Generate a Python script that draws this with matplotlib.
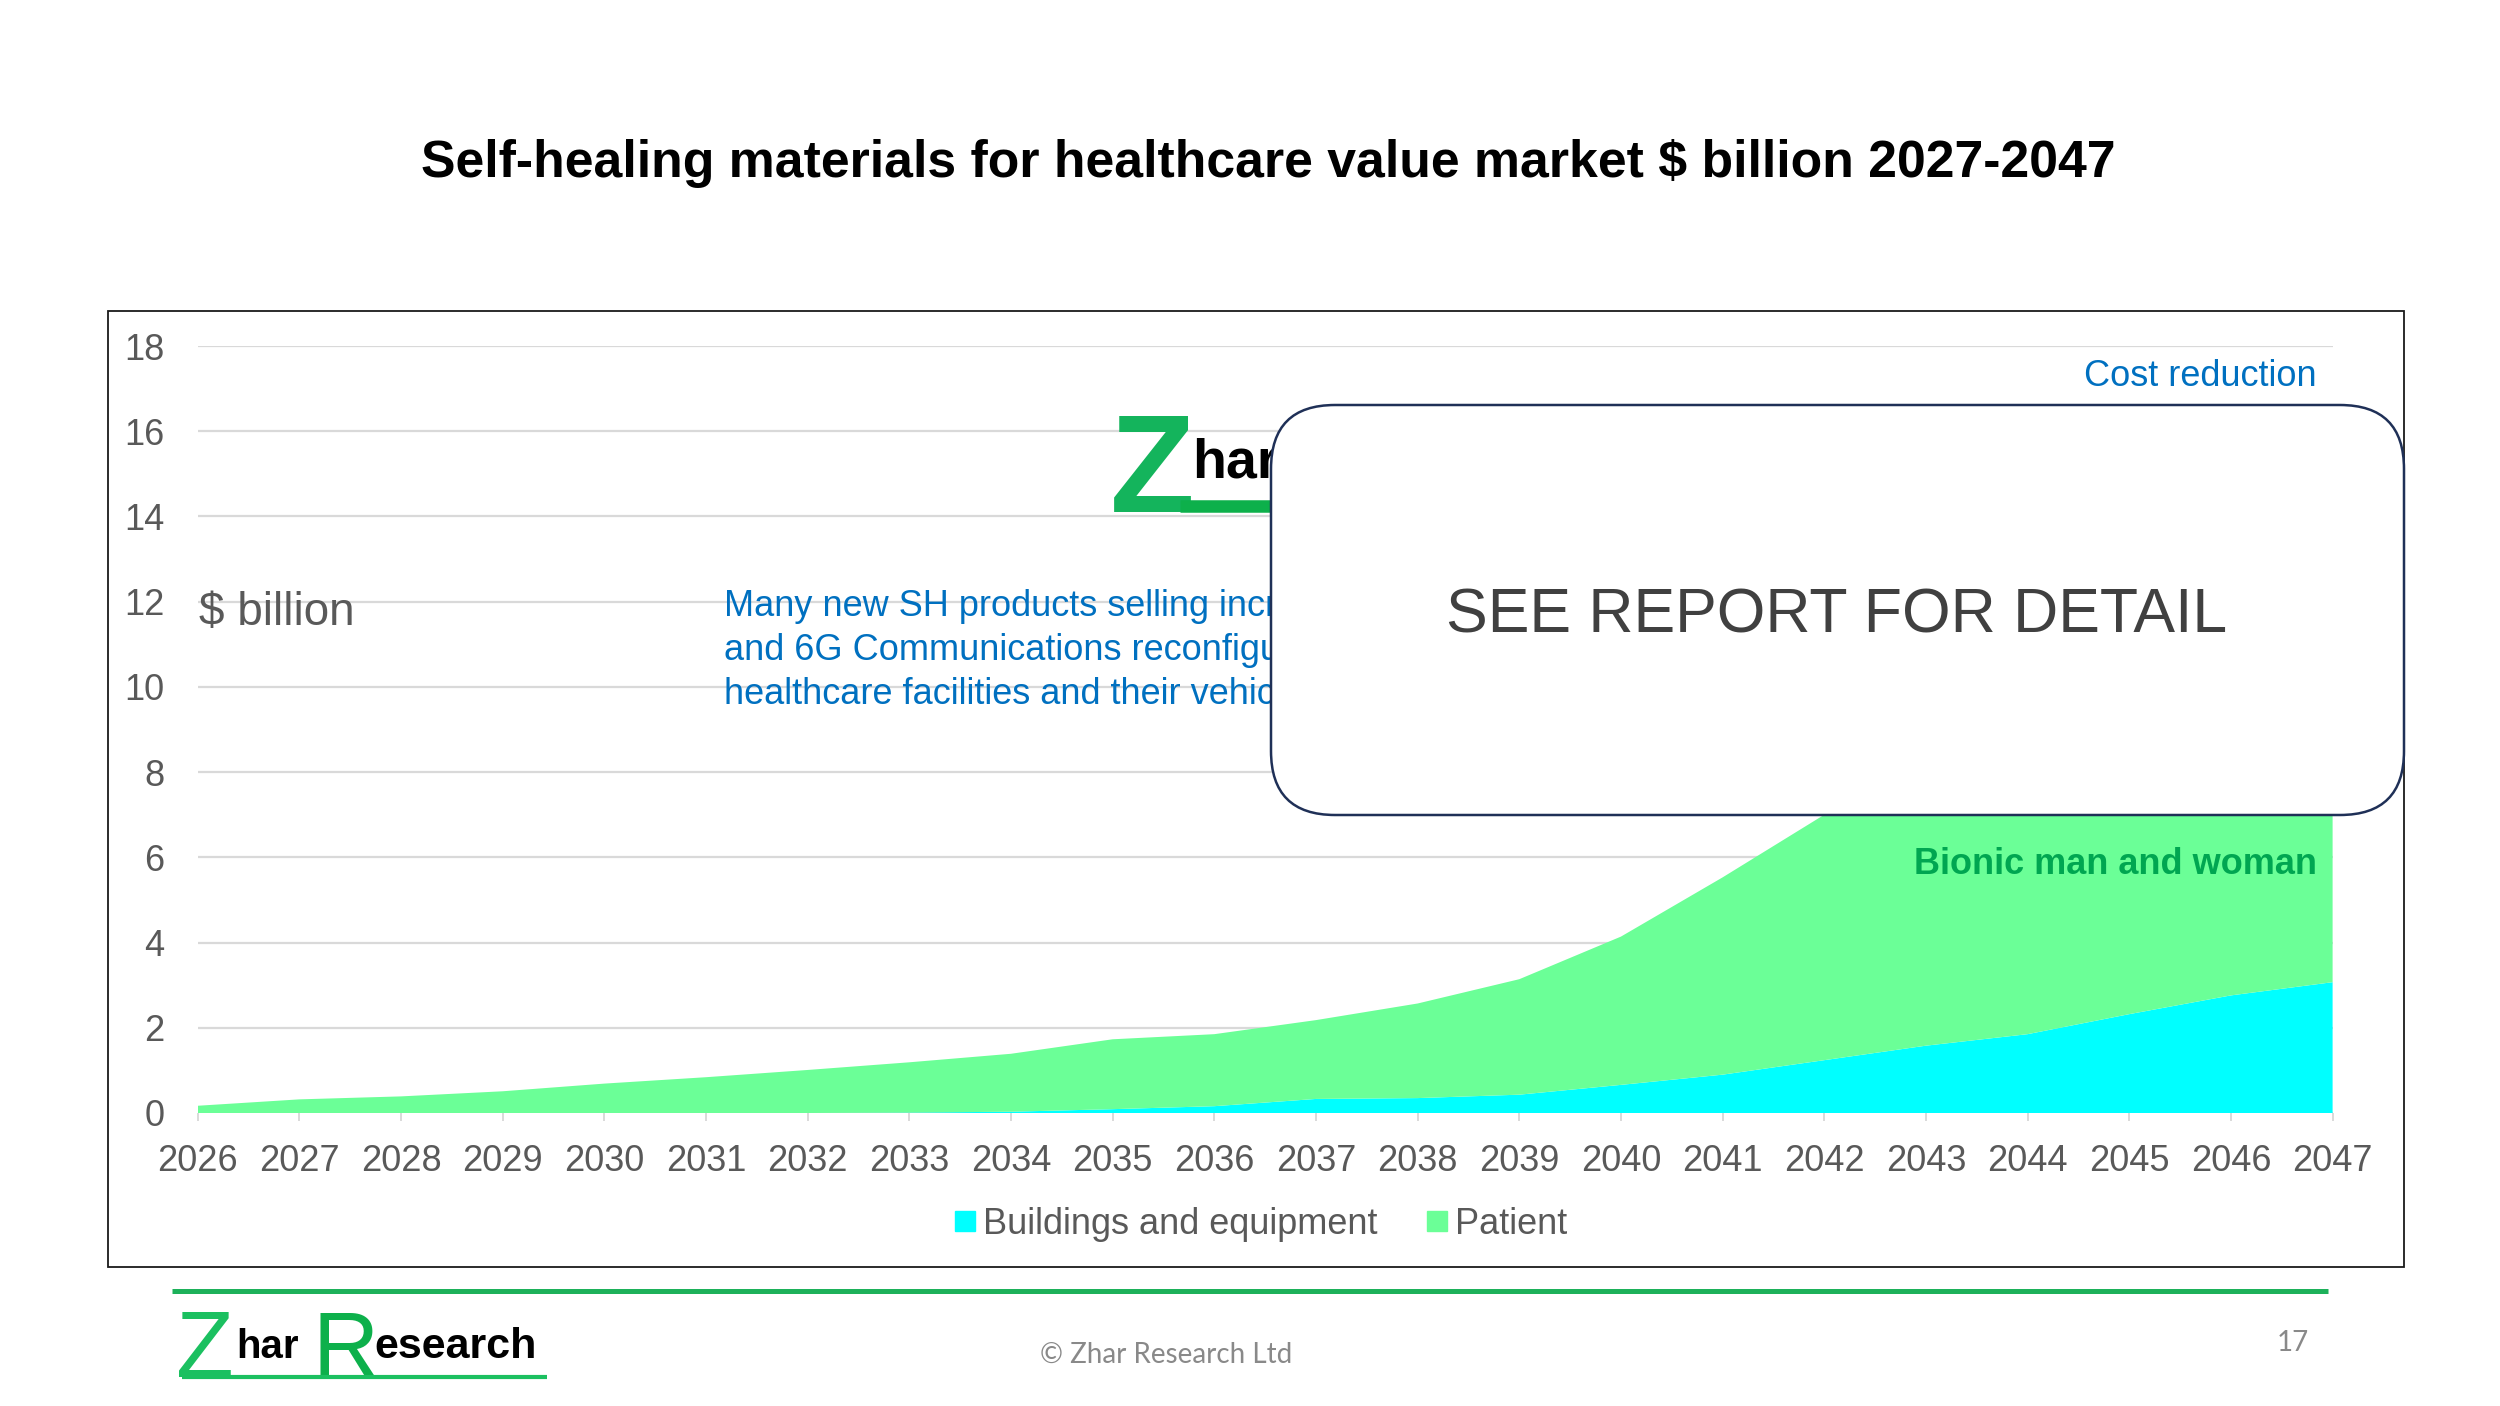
import matplotlib
matplotlib.use("Agg")
import matplotlib.pyplot as plt
from matplotlib.patches import FancyBboxPatch, Rectangle
from matplotlib.lines import Line2D
import numpy as np

plt.rcParams['font.family'] = ['Liberation Sans', 'DejaVu Sans']

# ---------------- data ----------------
years = list(range(2026, 2048))
buildings = [0.0, 0.0, 0.0, 0.0, 0.0, 0.0, 0.0, 0.01, 0.03, 0.09, 0.16, 0.33,
             0.35, 0.43, 0.66, 0.90, 1.24, 1.58, 1.85, 2.32, 2.76, 3.07]
patient = [0.17, 0.32, 0.39, 0.51, 0.69, 0.84, 1.01, 1.18, 1.36, 1.64, 1.69, 1.85,
           2.22, 2.71, 3.48, 4.63, 5.76, 6.82, 7.95, 8.88, 9.84, 10.93]
series_names = ["Buildings and equipment", "Patient"]
series_colors = ["#00FFFF", "#6BFF97"]
yticks = list(range(0, 19, 2))

title = "Self-healing materials for healthcare value market $ billion 2027-2047"
blue_lines = ["Many new SH products selling increasingly",
              "and 6G Communications reconfigurable",
              "healthcare facilities and their vehicles"]

W, H = 2500, 1406
fig = plt.figure(figsize=(W / 100, H / 100), dpi=100)
fig.patch.set_facecolor("white")

# ---------------- chart axes ----------------
x0, x1 = 197.7, 2332.6
y0, y1 = 1113.0, 346.0
ax = fig.add_axes([x0 / W, (H - y0) / H, (x1 - x0) / W, (y0 - y1) / H])
ax.stackplot(years, buildings, patient, colors=series_colors, zorder=2, linewidth=0)
ax.set_xlim(2026, 2047)
ax.set_ylim(0, 18)
ax.set_xticks(years)
ax.set_xticklabels([str(y) for y in years])
ax.set_yticks(yticks)
ax.set_yticklabels([str(v) for v in yticks])
ax.yaxis.grid(True, color="#d9d9d9", lw=1.6, zorder=0)
ax.set_axisbelow(True)
for s in ax.spines.values():
    s.set_visible(False)
ax.tick_params(axis="x", length=6, width=1.4, color="#d9d9d9", labelsize=26,
               labelcolor="#595959", pad=16)
ax.tick_params(axis="y", length=0, labelsize=26, labelcolor="#595959", pad=24)

handles = [Line2D([], [], marker="s", linestyle="none", markersize=14,
                  markerfacecolor=c, markeredgecolor=c) for c in series_colors]
leg = fig.legend(handles, series_names, loc="center", ncol=2, frameon=False,
                 bbox_to_anchor=(1262 / W, 1 - 1224 / H), fontsize=26,
                 handlelength=0.5, handletextpad=0.25, columnspacing=1.4,
                 labelcolor="#595959")

# ---------------- overlay (pixel coords) ----------------
ov = fig.add_axes([0, 0, 1, 1], zorder=5)
ov.set_xlim(0, W)
ov.set_ylim(H, 0)
ov.axis("off")
ov.patch.set_visible(False)

ov.text(1268, 163, title, ha="center", va="center", fontsize=37.3,
        fontweight="bold", color="black")

ov.add_patch(Rectangle((108, 311), 2296, 956, fill=False, ec="#1a1a1a", lw=1.3, zorder=1))

# middle watermark logo (partly hidden by box)
ov.text(1110, 512, "Z", ha="left", va="baseline", fontsize=100, fontweight="bold",
        color="#14B45C", zorder=3)
ov.text(1192, 477, "har", ha="left", va="baseline", fontsize=40, fontweight="bold",
        color="black", zorder=3)
ov.plot([1180, 1300], [506, 506], color="#0DB04B", lw=9, solid_capstyle="butt", zorder=3)

# annotations
ov.text(199, 613, "$ billion", ha="left", va="center", fontsize=33, color="#595959", zorder=3)
for i, line in enumerate(blue_lines):
    ov.text(724, 607 + i * 44, line, ha="left", va="center", fontsize=26,
            color="#0070C0", zorder=3)
ov.text(2317, 377, "Cost reduction", ha="right", va="center", fontsize=26,
        color="#0070C0", zorder=3)
ov.text(2317, 864, "Bionic man and woman", ha="right", va="center", fontsize=26,
        fontweight="bold", color="#00A651", zorder=3)

# rounded box
ov.add_patch(FancyBboxPatch((1271, 405), 1133, 410,
                            boxstyle="round,pad=0,rounding_size=64",
                            fc="white", ec="#1F3057", lw=1.8, zorder=10))
ov.text(1837, 616, "SEE REPORT FOR DETAIL", ha="center", va="center", fontsize=45,
        color="#404040", zorder=11)

# footer
ov.plot([172, 2328], [1291, 1291], color="#1DB15A", lw=3.6, solid_capstyle="butt", zorder=3)
ov.text(176, 1377, "Z", ha="left", va="baseline", fontsize=68, color="#1BC060", zorder=3)
ov.text(236, 1358, "har", ha="left", va="baseline", fontsize=29, fontweight="bold",
        color="black", zorder=3)
ov.text(312, 1377, "R", ha="left", va="baseline", fontsize=66, color="#0DB04B", zorder=3)
ov.text(374, 1358, "esearch", ha="left", va="baseline", fontsize=31, fontweight="bold",
        color="black", zorder=3)
ov.plot([182, 547], [1377, 1377], color="#1BC060", lw=3, solid_capstyle="butt", zorder=3)
ov.text(1166, 1355, "\u00a9 Zhar Research Ltd", ha="center", va="center", fontsize=20,
        family=["Lato", "DejaVu Sans"], color="#898989", zorder=3)
ov.text(2293, 1343, "17", ha="center", va="center", fontsize=20,
        family=["Lato", "DejaVu Sans"], color="#898989", zorder=3)

fig.savefig("out.png", dpi=100, facecolor="white")
